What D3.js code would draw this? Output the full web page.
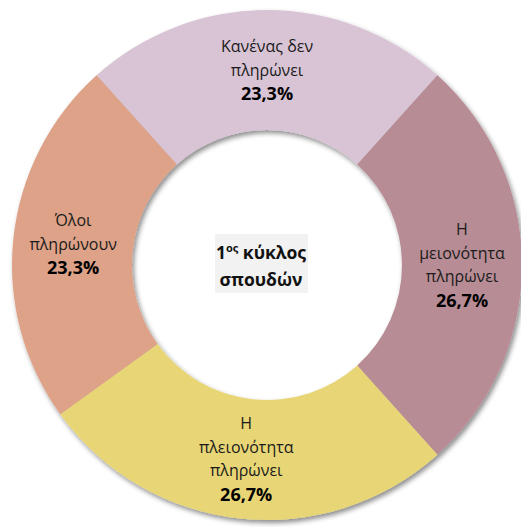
<!DOCTYPE html>
<html>
<head>
<meta charset="utf-8">
<script src="https://cdn.jsdelivr.net/npm/d3@7"></script>
<style>
  body { margin: 0; background: #fff; }
  svg { display: block; }
</style>
</head>
<body>
<script>
// data
var categories = ["Κανένας δεν πληρώνει", "Η μειονότητα πληρώνει", "Η πλειονότητα πληρώνει", "Όλοι πληρώνουν"];
var labelLines = [["Κανένας δεν", "πληρώνει"], ["Η", "μειονότητα", "πληρώνει"], ["Η", "πλειονότητα", "πληρώνει"], ["Όλοι", "πληρώνουν"]];
var values = [23.3, 26.7, 26.7, 23.3];
var colors = ["#D9C4D5", "#B78C95", "#E8D676", "#DDA287"];
var centerTitle = ["1", "ος", " κύκλος", "σπουδών"];

var width = 521, height = 527;
var cx = 267, cy = 265, outerR = 255, innerR = 135;
var lineH = 23.5;

var svg = d3.select("body").append("svg").attr("width", width).attr("height", height);

// shadow
var defs = svg.append("defs");
var f = defs.append("filter").attr("id", "shadow").attr("x", "-10%").attr("y", "-10%").attr("width", "120%").attr("height", "120%");
f.append("feDropShadow").attr("dx", 2).attr("dy", 3).attr("stdDeviation", 2.5)
  .attr("flood-color", "#000").attr("flood-opacity", 0.45);

var pie = d3.pie().sort(null)
  .startAngle(-values[0] / 100 * Math.PI)
  .endAngle(2 * Math.PI - values[0] / 100 * Math.PI);
var arc = d3.arc().innerRadius(innerR).outerRadius(outerR);
var arcs = pie(values);

var g = svg.append("g").attr("transform", "translate(" + cx + "," + cy + ")");

g.append("g").attr("filter", "url(#shadow)")
  .selectAll("path").data(arcs).enter().append("path")
  .attr("d", arc)
  .attr("fill", function (d, i) { return colors[i]; });

// labels
var lab = g.selectAll("text.lab").data(arcs).enter().append("text")
  .attr("class", "lab")
  .attr("text-anchor", "middle")
  .style("font-family", "'Open Sans', sans-serif")
  .style("font-size", "16px")
  .attr("fill", "#1b1b1b");

lab.each(function (d, i) {
  var c = arc.centroid(d);
  var lines = labelLines[i].concat([d3.format(".1f")(values[i]).replace(".", ",") + "%"]);
  var n = lines.length;
  var t = d3.select(this);
  lines.forEach(function (l, k) {
    var y = c[1] + (k - (n - 1) / 2) * lineH + 5.5;
    var ts = t.append("tspan").attr("x", c[0]).attr("y", y).text(l);
    if (k === n - 1) ts.attr("y", y + 1).style("font-weight", "bold").style("font-size", "18px").attr("fill", "#000");
  });
});

// center box
g.append("rect").attr("x", -52).attr("y", -31).attr("width", 93).attr("height", 59).attr("fill", "#F2F2F2");
var ct = g.append("text").attr("text-anchor", "middle")
  .style("font-family", "'Open Sans', sans-serif")
  .style("font-weight", "bold").style("font-size", "17.5px").attr("fill", "#111");
var t1 = ct.append("tspan").attr("x", -6).attr("y", -6);
t1.append("tspan").text(centerTitle[0]);
t1.append("tspan").attr("dy", -7).style("font-size", "11px").text(centerTitle[1]);
t1.append("tspan").attr("dy", 7).text(centerTitle[2]);
ct.append("tspan").attr("x", -6).attr("y", 21).text(centerTitle[3]);
</script>
</body>
</html>
